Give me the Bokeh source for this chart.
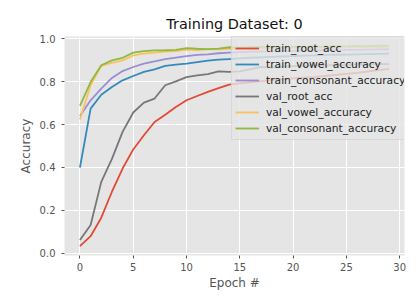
from bokeh.plotting import figure
from bokeh.models import Range1d, Legend, LegendItem, FixedTicker, NumeralTickFormatter
from bokeh.embed import file_html
from bokeh.resources import INLINE

epochs = list(range(30))

train_root_acc = [0.034, 0.080, 0.166, 0.287, 0.395, 0.484, 0.550, 0.612, 0.646, 0.682,
                  0.713, 0.733, 0.752, 0.770, 0.786, 0.792, 0.797, 0.802, 0.807, 0.811,
                  0.815, 0.818, 0.821, 0.826, 0.831, 0.836, 0.841, 0.847, 0.853, 0.859]
train_vowel_accuracy = [0.400, 0.674, 0.739, 0.775, 0.806, 0.826, 0.845, 0.857, 0.873, 0.879,
                        0.884, 0.891, 0.898, 0.902, 0.905, 0.908, 0.911, 0.913, 0.915, 0.917,
                        0.919, 0.921, 0.922, 0.924, 0.925, 0.926, 0.927, 0.928, 0.929, 0.930]
train_consonant_accuracy = [0.640, 0.713, 0.767, 0.817, 0.849, 0.868, 0.884, 0.894, 0.905, 0.912,
                            0.919, 0.924, 0.927, 0.932, 0.935, 0.937, 0.939, 0.940, 0.941, 0.942,
                            0.943, 0.944, 0.945, 0.946, 0.947, 0.948, 0.948, 0.949, 0.950, 0.950]
val_root_acc = [0.062, 0.132, 0.333, 0.440, 0.566, 0.656, 0.702, 0.721, 0.783, 0.801,
                0.821, 0.829, 0.835, 0.848, 0.845, 0.848, 0.858, 0.868, 0.866, 0.870,
                0.872, 0.874, 0.876, 0.874, 0.878, 0.877, 0.880, 0.879, 0.882, 0.881]
val_vowel_accuracy = [0.623, 0.783, 0.873, 0.887, 0.899, 0.922, 0.930, 0.935, 0.940, 0.942,
                      0.949, 0.947, 0.950, 0.950, 0.953, 0.952, 0.955, 0.954, 0.956, 0.955,
                      0.957, 0.958, 0.957, 0.959, 0.958, 0.960, 0.960, 0.961, 0.960, 0.962]
val_consonant_accuracy = [0.687, 0.798, 0.876, 0.899, 0.911, 0.935, 0.942, 0.945, 0.946, 0.948,
                          0.956, 0.953, 0.951, 0.954, 0.960, 0.958, 0.960, 0.961, 0.959, 0.962,
                          0.963, 0.962, 0.964, 0.963, 0.965, 0.964, 0.966, 0.965, 0.967, 0.966]

series_names = ["train_root_acc", "train_vowel_accuracy", "train_consonant_accuracy",
                "val_root_acc", "val_vowel_accuracy", "val_consonant_accuracy"]
series_values = [train_root_acc, train_vowel_accuracy, train_consonant_accuracy,
                 val_root_acc, val_vowel_accuracy, val_consonant_accuracy]
colors = ["#E24A33", "#348ABD", "#988ED5", "#777777", "#FBC15E", "#8EBA42"]

x_ticks = [0, 5, 10, 15, 20, 25, 30]
y_ticks = [0.0, 0.2, 0.4, 0.6, 0.8, 1.0]

FONT = "DejaVu Sans"

p = figure(width=410, height=292, output_backend="svg", toolbar_location=None,
           x_range=Range1d(-1.45, 30.45), y_range=Range1d(-0.01, 1.01),
           min_border_left=64, min_border_right=6, min_border_top=36, min_border_bottom=37,
           title="Training Dataset: 0")

p.background_fill_color = "#E5E5E5"
p.border_fill_color = "white"
p.outline_line_color = None

p.title.text_font = FONT
p.title.text_font_size = "14.4px"
p.title.text_font_style = "normal"
p.title.text_color = "#111111"
p.title.align = "center"

for ax in (p.xaxis, p.yaxis):
    ax.axis_line_color = None
    ax.major_tick_line_color = "#555555"
    ax.major_tick_in = 0
    ax.major_tick_out = 3
    ax.minor_tick_line_color = None
    ax.major_label_text_font = FONT
    ax.major_label_text_font_size = "10px"
    ax.major_label_text_color = "#555555"
    ax.axis_label_text_font = FONT
    ax.axis_label_text_font_size = "12px"
    ax.axis_label_text_font_style = "normal"
    ax.axis_label_text_color = "#555555"

p.xaxis.ticker = FixedTicker(ticks=x_ticks)
p.yaxis.ticker = FixedTicker(ticks=y_ticks)
p.yaxis.formatter = NumeralTickFormatter(format="0.0")
p.xaxis.axis_label = "Epoch #"
p.yaxis.axis_label = "Accuracy"
p.xaxis.major_label_standoff = 4
p.xaxis.axis_label_standoff = 2
p.yaxis.major_label_standoff = 6
p.yaxis.axis_label_standoff = 4

p.xgrid.ticker = FixedTicker(ticks=x_ticks)
p.ygrid.ticker = FixedTicker(ticks=y_ticks)
p.grid.grid_line_color = "white"
p.grid.grid_line_width = 1

items = []
for name, vals, c in zip(series_names, series_values, colors):
    r = p.line(epochs, vals, line_color=c, line_width=1.8)
    items.append(LegendItem(label=name, renderers=[r]))

legend = Legend(items=items, location=(167, 115))
legend.background_fill_color = "#E5E5E5"
legend.background_fill_alpha = 0.8
legend.border_line_color = "#CCCCCC"
legend.border_line_width = 1
legend.label_text_font = FONT
legend.label_text_font_size = "10.7px"
legend.label_text_color = "#222222"
legend.label_height = 16
legend.glyph_height = 16
legend.glyph_width = 24
legend.label_standoff = 7
legend.spacing = 0
legend.padding = 3
legend.margin = 0
p.add_layout(legend, "center")

open("out.html", "w").write(file_html(p, INLINE))
